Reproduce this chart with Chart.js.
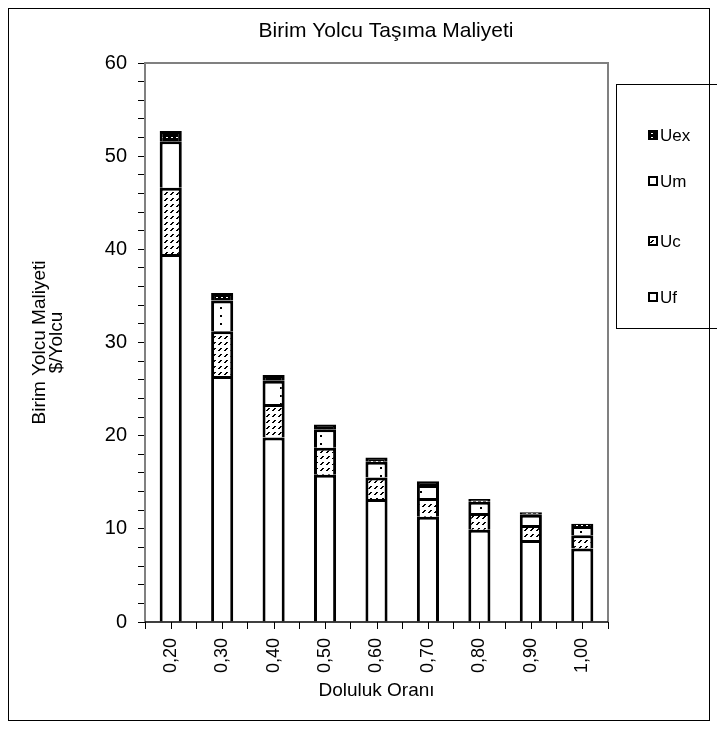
<!DOCTYPE html>
<html>
<head>
<meta charset="utf-8">
<script src="https://cdn.jsdelivr.net/npm/chart.js@4"></script>
<style>
html,body{margin:0;padding:0;background:#fff;}
#wrap{width:717px;height:733px;position:relative;}
</style>
</head>
<body>
<div id="wrap"><canvas id="c" width="717" height="733"></canvas></div>
<script>
// ---- data ----
const categories = ['0,20','0,30','0,40','0,50','0,60','0,70','0,80','0,90','1,00'];
const Uf  = [39.5, 26.4, 19.8, 15.8, 13.2, 11.3, 9.9, 8.8, 7.9];
const Uc  = [7.1, 4.8, 3.6, 2.9, 2.3, 2.0, 1.8, 1.6, 1.4];
const Um  = [5.0, 3.3, 2.5, 2.0, 1.7, 1.4, 1.2, 1.1, 1.0];
const Uex = [1.1, 0.8, 0.6, 0.5, 0.45, 0.4, 0.3, 0.27, 0.24];
const seriesNames = ['Uf','Uc','Um','Uex'];
const yTickMax = 60, yMinorStep = 2, yMajorStep = 10;
const chartTitle = 'Birim Yolcu Taşıma Maliyeti';
const yTitle = ['Birim Yolcu Maliyeti', '$/Yolcu'];
const xTitle = 'Doluluk Oranı';

const FONT = "'Liberation Sans', Arial, sans-serif";

// ---- patterns ----
function makePattern(w, h, draw) {
  const cv = document.createElement('canvas');
  cv.width = w; cv.height = h;
  const g = cv.getContext('2d');
  draw(g, w, h);
  return document.getElementById('c').getContext('2d').createPattern(cv, 'repeat');
}
const patUf = '#ffffff';
const patUc = makePattern(6, 6, (g, w, h) => {
  g.fillStyle = '#fff'; g.fillRect(0, 0, w, h);
  g.fillStyle = '#000';
  g.fillRect(5, 0, 1, 1); g.fillRect(4, 1, 1, 1); g.fillRect(3, 2, 1, 1);
  g.fillRect(4, 0, 1, 1); g.fillRect(3, 1, 1, 1); g.fillRect(2, 2, 1, 1);
});
const patUm = makePattern(20, 8, (g, w, h) => {
  g.fillStyle = '#fff'; g.fillRect(0, 0, w, h);
  g.fillStyle = '#000';
  g.fillRect(0, 3, 2, 2);
});
const patUex = makePattern(5, 4, (g, w, h) => {
  g.fillStyle = '#000'; g.fillRect(0, 0, w, h);
  g.fillStyle = '#fff';
  g.fillRect(1, 1, 2, 1);
});
const fills = {Uf: patUf, Uc: patUc, Um: patUm, Uex: patUex};
const values = {Uf, Uc, Um, Uex};

const datasets = seriesNames.map(n => ({
  label: n,
  data: values[n],
  backgroundColor: fills[n],
  borderColor: '#000',
  borderWidth: 3,
  borderSkipped: 'start',
  barPercentage: 0.43,
  categoryPercentage: 1.0
}));

// ---- decoration plugin ----
const deco = {
  id: 'deco',
  beforeDraw(chart) {
    const ctx = chart.ctx;
    ctx.save();
    ctx.fillStyle = '#fff';
    ctx.fillRect(0, 0, chart.width, chart.height);
    ctx.restore();
  },
  afterDraw(chart) {
    const ctx = chart.ctx;
    const a = chart.chartArea;
    ctx.save();
    // plot frame
    ctx.strokeStyle = '#808080';
    ctx.lineWidth = 2;
    ctx.beginPath();
    ctx.moveTo(a.left, a.bottom); ctx.lineTo(a.left, a.top);
    ctx.lineTo(a.right, a.top); ctx.lineTo(a.right, a.bottom);
    ctx.stroke();
    // x axis line
    ctx.strokeStyle = '#000';
    ctx.lineWidth = 1.5;
    ctx.beginPath();
    ctx.moveTo(a.left, a.bottom); ctx.lineTo(a.right, a.bottom);
    ctx.stroke();
    // center ticks on x axis
    const xs = chart.scales.x;
    ctx.lineWidth = 1;
    ctx.beginPath();
    categories.forEach((c, i) => {
      const px = Math.round(xs.getPixelForValue(i)) + 0.5;
      ctx.moveTo(px, a.bottom); ctx.lineTo(px, a.bottom + 7);
    });
    ctx.stroke();
    // outer frame
    ctx.strokeStyle = '#000';
    ctx.lineWidth = 1;
    ctx.strokeRect(8.5, 8.5, 701, 712);
    // title
    ctx.fillStyle = '#000';
    ctx.font = '21px ' + FONT;
    ctx.textAlign = 'center';
    ctx.textBaseline = 'middle';
    ctx.fillText(chartTitle, 386, 31);
    // legend
    ctx.strokeStyle = '#000';
    ctx.lineWidth = 1;
    ctx.strokeRect(616.5, 84.5, 120, 244);
    const ys = [135, 181, 241, 297];
    const order = seriesNames.slice().reverse();
    ctx.font = '17px ' + FONT;
    ctx.textAlign = 'left';
    order.forEach((n, i) => {
      const y = ys[i];
      ctx.fillStyle = fills[n];
      ctx.fillRect(648, y - 5, 10, 10);
      ctx.strokeStyle = '#000';
      ctx.lineWidth = 2;
      ctx.strokeRect(649, y - 4, 8, 8);
      ctx.fillStyle = '#000';
      ctx.fillText(n, 660, y + 1);
    });
    ctx.restore();
  }
};

new Chart(document.getElementById('c'), {
  type: 'bar',
  data: { labels: categories, datasets },
  plugins: [deco],
  options: {
    responsive: false,
    animation: false,
    layout: { padding: { left: 31, right: 109, top: 63, bottom: 33 } },
    plugins: { legend: { display: false }, title: { display: false }, tooltip: { enabled: false } },
    scales: {
      x: {
        stacked: true,
        afterFit(s) { s.height = 78; },
        grid: { offset: true, drawOnChartArea: false, drawTicks: true, tickLength: 7, color: '#000', lineWidth: 1 },
        border: { display: false },
        ticks: { color: '#000', font: { family: FONT, size: 18 }, minRotation: 90, maxRotation: 90, padding: 9, autoSkip: false },
        title: { display: true, text: xTitle, color: '#000', font: { family: FONT, size: 19, lineHeight: 1.0 }, padding: 0 }
      },
      y: {
        stacked: true,
        min: 0, max: yTickMax,
        afterFit(s) { s.width = 114; },
        grid: { drawOnChartArea: false, drawTicks: true, tickLength: 7, color: '#000', lineWidth: 1 },
        border: { display: false },
        ticks: {
          stepSize: yMinorStep, autoSkip: false, color: '#000', padding: 11,
          font: { family: FONT, size: 20 },
          callback: v => (v % yMajorStep === 0 ? String(v) : '')
        },
        title: { display: true, text: yTitle, color: '#000', font: { family: FONT, size: 19, lineHeight: 0.9 }, padding: 0 }
      }
    }
  }
});
</script>
</body>
</html>
